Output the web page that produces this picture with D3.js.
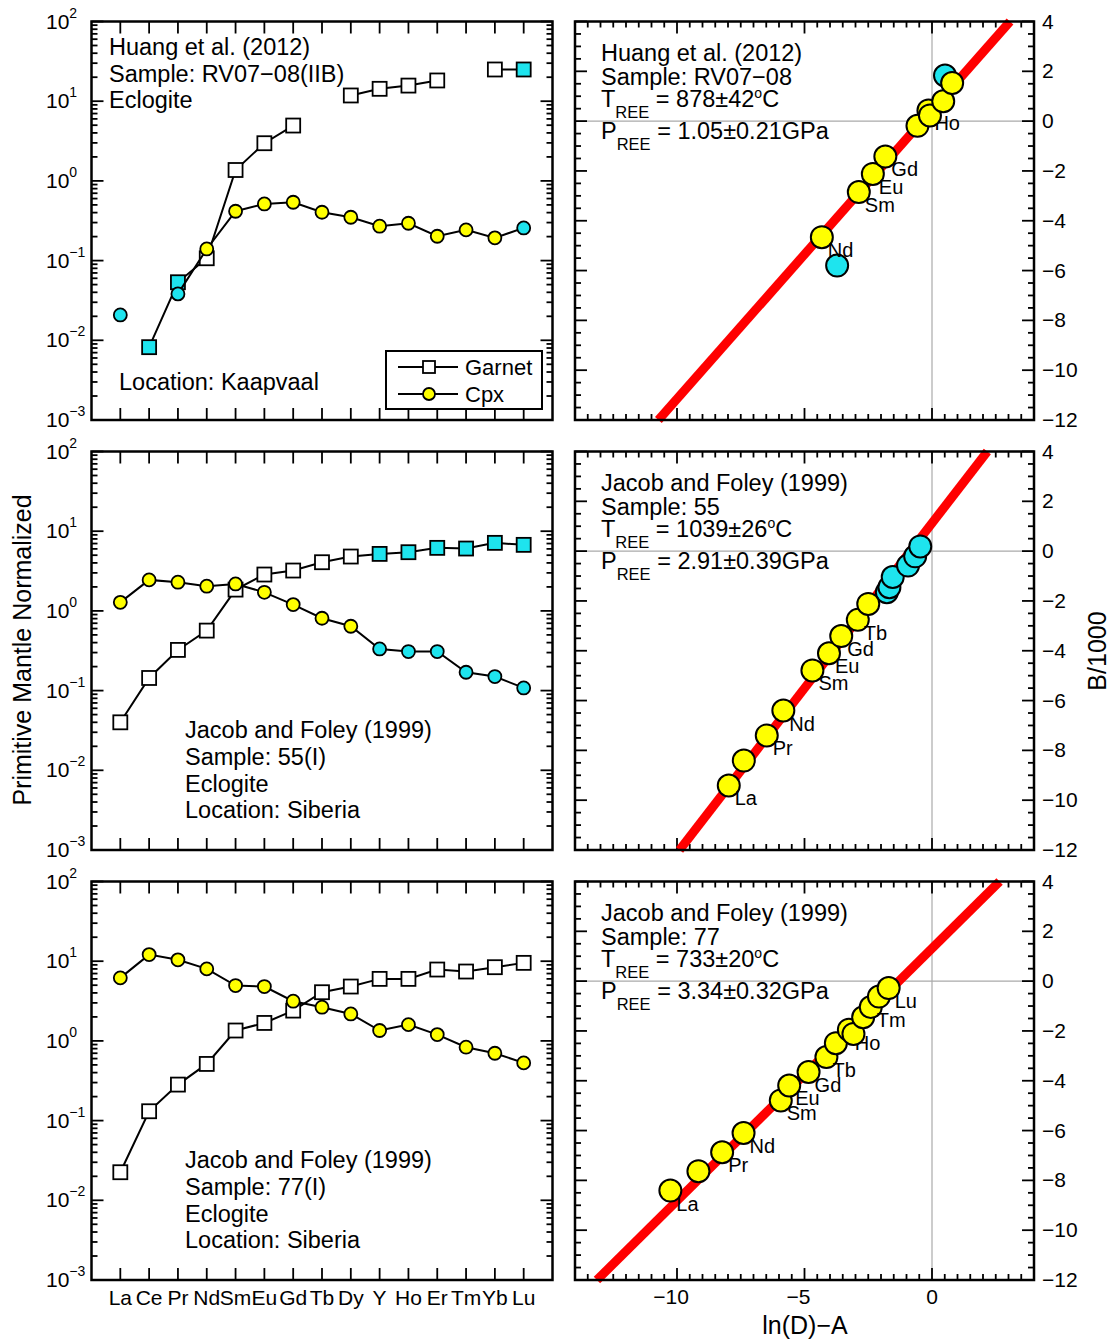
<!DOCTYPE html>
<html>
<head>
<meta charset="utf-8">
<script src="https://cdn.jsdelivr.net/npm/d3@7"></script>
<style>
  body { margin: 0; background: #fff; }
  text { font-family: "Liberation Sans", Arial, Helvetica, sans-serif; fill: #000; }
</style>
</head>
<body>
<svg id="chart" width="1114" height="1342"></svg>
<script>
// ---- data ----
const elements = ['La', 'Ce', 'Pr', 'Nd', 'Sm', 'Eu', 'Gd', 'Tb', 'Dy', 'Y', 'Ho', 'Er', 'Tm', 'Yb', 'Lu'];
const decades = [-3, -2, -1, 0, 1, 2];
const bTicks = [-12, -10, -8, -6, -4, -2, 0, 2, 4];
const lnTicks = [-10, -5, 0];

// Huang et al. (2012) RV07-08 : primitive mantle normalized
const huangGarnet = [null, 0.0082, 0.0535, 0.107, 1.37, 2.97, 4.95, null, 11.8, 14.3, 15.7, 18.2, null, 25.0, 25.0];
const huangGarnetCyan = ['Ce', 'Pr', 'Lu'];
const huangCpx = [0.0208, null, 0.0382, 0.140, 0.416, 0.514, 0.540, 0.404, 0.350, 0.270, 0.294, 0.202, 0.243, 0.193, 0.257];
const huangCpxCyan = ['La', 'Pr', 'Lu'];

// Jacob and Foley (1999) 55
const jf55Garnet = [0.040, 0.144, 0.324, 0.566, 1.85, 2.86, 3.21, 4.08, 4.81, 5.19, 5.45, 6.18, 6.06, 7.14, 6.74];
const jf55GarnetCyan = ['Y', 'Ho', 'Er', 'Tm', 'Yb', 'Lu'];
const jf55Cpx = [1.28, 2.45, 2.29, 2.04, 2.18, 1.71, 1.20, 0.809, 0.642, 0.333, 0.309, 0.309, 0.170, 0.150, 0.108];
const jf55CpxCyan = ['Y', 'Ho', 'Er', 'Tm', 'Yb', 'Lu'];

// Jacob and Foley (1999) 77
const jf77Garnet = [0.0225, 0.131, 0.283, 0.514, 1.35, 1.68, 2.40, 4.08, 4.81, 6.00, 6.00, 7.86, 7.42, 8.41, 9.53];
const jf77GarnetCyan = [];
const jf77Cpx = [6.18, 12.1, 10.4, 8.01, 4.95, 4.81, 3.15, 2.65, 2.18, 1.35, 1.60, 1.20, 0.833, 0.70, 0.530];
const jf77CpxCyan = [];

// ln(D)-A vs B/1000 points, in drawing order
const huangLnD = [-3.72, 0.51, -4.32, -2.87, -2.32, -1.83, -0.57, -0.14, -0.08, 0.44, 0.79];
const huangB = [-5.80, 1.83, -4.66, -2.85, -2.12, -1.42, -0.19, 0.43, 0.23, 0.80, 1.53];
const huangFitCyan = [true, true, false, false, false, false, false, false, false, false, false];
const huangFitLabel = ['', '', 'Nd', 'Sm', 'Eu', 'Gd', '', 'Ho', '', '', ''];
const huangLineX = [-10.73, 3.06];
const huangLineY = [-12, 4];

const jf55LnD = [-7.97, -7.38, -6.48, -5.83, -4.69, -4.04, -3.56, -2.91, -2.50, -1.77, -1.67, -1.54, -0.94, -0.66, -0.46];
const jf55B = [-9.41, -8.41, -7.40, -6.40, -4.79, -4.10, -3.41, -2.76, -2.12, -1.65, -1.45, -1.04, -0.58, -0.21, 0.19];
const jf55FitCyan = [false, false, false, false, false, false, false, false, false, true, true, true, true, true, true];
const jf55FitLabel = ['La', '', 'Pr', 'Nd', 'Sm', 'Eu', 'Gd', 'Tb', '', '', '', '', '', '', ''];
const jf55LineX = [-9.90, 2.17];
const jf55LineY = [-12, 4];

const jf77LnD = [-10.26, -9.16, -8.23, -7.39, -5.93, -5.60, -4.84, -4.14, -3.77, -3.26, -3.08, -2.70, -2.40, -2.08, -1.70];
const jf77B = [-8.41, -7.63, -6.87, -6.10, -4.79, -4.19, -3.65, -3.05, -2.49, -1.95, -2.12, -1.45, -1.04, -0.62, -0.28];
const jf77FitCyan = [false, false, false, false, false, false, false, false, false, false, false, false, false, false, false];
const jf77FitLabel = ['La', '', 'Pr', 'Nd', 'Sm', 'Eu', 'Gd', 'Tb', '', 'Ho', '', '', 'Tm', '', 'Lu'];
const jf77LineX = [-13.14, 2.65];
const jf77LineY = [-12, 4];

// ---- layout ----
const rowTops = [21.5, 451.5, 881.5];
const panelH = 398.5;
const leftX = [91.5, 552.5];
const rightX = [575, 1034];
const cyan = '#1ee4ee';
const yellow = '#ffff00';
const mainFont = 23.5;
const minus = (v) => v < 0 ? '\u2212' + (-v) : '' + v;

const svg = d3.select('#chart');

const xRee = d3.scaleLinear().domain([-1, 15]).range(leftX);
const xLn = d3.scaleLinear().domain([-14, 4]).range(rightX);

function tick(g, x1, y1, x2, y2) {
  g.append('line')
    .attr('x1', x1).attr('y1', y1).attr('x2', x2).attr('y2', y2)
    .attr('stroke', '#000').attr('stroke-width', 1.8);
}

function spiderPanel(top, garnet, garnetCyan, cpx, cpxCyan) {
  const g = svg.append('g');
  const y = d3.scaleLog().domain([1e-3, 1e2]).range([top + panelH, top]);

  // ticks: decades and minors on both sides
  const ticksG = g.append('g');
  decades.forEach((e) => {
    const v = Math.pow(10, e);
    tick(ticksG, leftX[0], y(v), leftX[0] + 12, y(v));
    tick(ticksG, leftX[1], y(v), leftX[1] - 12, y(v));
    if (e < 2) {
      for (let m = 2; m <= 9; m++) {
        const mv = m * v;
        tick(ticksG, leftX[0], y(mv), leftX[0] + 6, y(mv));
        tick(ticksG, leftX[1], y(mv), leftX[1] - 6, y(mv));
      }
    }
    // label 10^e
    const lab = g.append('text')
      .attr('x', 46)
      .attr('y', y(v) + 7)
      .attr('font-size', 21)
      .text('10');
    lab.append('tspan')
      .attr('dy', -11)
      .attr('font-size', 14)
      .text(minus(e));
  });
  elements.forEach((el, i) => {
    tick(ticksG, xRee(i), top, xRee(i), top + 12);
    tick(ticksG, xRee(i), top + panelH, xRee(i), top + panelH - 12);
  });

  const series = [
    { vals: garnet, cyanSet: garnetCyan, shape: 'square', base: '#fff' },
    { vals: cpx, cyanSet: cpxCyan, shape: 'circle', base: yellow }
  ];

  series.forEach((s) => {
    const pts = s.vals.map((v, i) => ({ i: i, v: v, el: elements[i] }));
    const line = d3.line()
      .defined((d) => d.v !== null)
      .x((d) => xRee(d.i))
      .y((d) => y(d.v));
    g.append('path')
      .attr('d', line(pts))
      .attr('fill', 'none')
      .attr('stroke', '#000')
      .attr('stroke-width', 2);
    const valid = pts.filter((d) => d.v !== null);
    if (s.shape === 'square') {
      g.selectAll(null)
        .data(valid)
        .enter()
        .append('rect')
        .attr('x', (d) => xRee(d.i) - 7)
        .attr('y', (d) => y(d.v) - 7)
        .attr('width', 14)
        .attr('height', 14)
        .attr('fill', (d) => s.cyanSet.includes(d.el) ? cyan : s.base)
        .attr('stroke', '#000')
        .attr('stroke-width', 1.8);
    } else {
      g.selectAll(null)
        .data(valid)
        .enter()
        .append('circle')
        .attr('cx', (d) => xRee(d.i))
        .attr('cy', (d) => y(d.v))
        .attr('r', 6.5)
        .attr('fill', (d) => s.cyanSet.includes(d.el) ? cyan : s.base)
        .attr('stroke', '#000')
        .attr('stroke-width', 1.8);
    }
  });

  g.append('rect')
    .attr('x', leftX[0]).attr('y', top)
    .attr('width', leftX[1] - leftX[0]).attr('height', panelH)
    .attr('fill', 'none').attr('stroke', '#000').attr('stroke-width', 2.5);
  return g;
}

function textLines(g, x, baselines, lines, size) {
  lines.forEach((t, i) => {
    g.append('text')
      .attr('x', x)
      .attr('y', baselines[i])
      .attr('font-size', size)
      .text(t);
  });
}

function fitPanel(top, lnD, b, cyanFlags, labels, lineX, lineY, head) {
  const g = svg.append('g');
  const y = d3.scaleLinear().domain([-12, 4]).range([top + panelH, top]);

  // zero reference lines
  g.append('line')
    .attr('x1', xLn(0)).attr('x2', xLn(0)).attr('y1', top).attr('y2', top + panelH)
    .attr('stroke', '#aaa').attr('stroke-width', 1.2);
  g.append('line')
    .attr('x1', rightX[0]).attr('x2', rightX[1]).attr('y1', y(0)).attr('y2', y(0))
    .attr('stroke', '#aaa').attr('stroke-width', 1.2);

  // ticks
  const ticksG = g.append('g');
  for (let v = -12; v <= 4.001; v += 0.5) {
    const major = Math.abs(v % 2) < 1e-6;
    const len = major ? 12 : 6;
    tick(ticksG, rightX[0], y(v), rightX[0] + len, y(v));
    tick(ticksG, rightX[1], y(v), rightX[1] - len, y(v));
  }
  for (let v = -14; v <= 4.001; v += 0.5) {
    const major = Math.abs(v % 5) < 1e-6;
    const len = major ? 12 : 6;
    tick(ticksG, xLn(v), top, xLn(v), top + len);
    tick(ticksG, xLn(v), top + panelH, xLn(v), top + panelH - len);
  }
  bTicks.forEach((v) => {
    g.append('text')
      .attr('x', rightX[1] + 8)
      .attr('y', y(v) + 7)
      .attr('font-size', 21)
      .text(minus(v));
  });

  // red regression line
  g.append('line')
    .attr('x1', xLn(lineX[0])).attr('y1', y(lineY[0]))
    .attr('x2', xLn(lineX[1])).attr('y2', y(lineY[1]))
    .attr('stroke', '#ff0000').attr('stroke-width', 9);

  // cyan points first, then yellow with their labels
  const pts = lnD.map((x, i) => ({ x: x, b: b[i], cyan: cyanFlags[i], label: labels[i] }));
  const ordered = pts.filter((d) => d.cyan).concat(pts.filter((d) => !d.cyan));
  ordered.forEach((d) => {
    g.append('circle')
      .attr('cx', xLn(d.x))
      .attr('cy', y(d.b))
      .attr('r', 11)
      .attr('fill', d.cyan ? cyan : yellow)
      .attr('stroke', '#000')
      .attr('stroke-width', 2);
    if (d.label) {
      g.append('text')
        .attr('x', xLn(d.x) + 6)
        .attr('y', y(d.b) + 20)
        .attr('font-size', 20)
        .text(d.label);
    }
  });

  // header text
  const tx = 601;
  g.append('text').attr('x', tx).attr('y', top + 39).attr('font-size', mainFont).text(head.ref);
  g.append('text').attr('x', tx).attr('y', top + 63.5).attr('font-size', mainFont).text(head.sample);
  const tT = g.append('text').attr('x', tx).attr('y', top + 85).attr('font-size', mainFont);
  tT.append('tspan').text('T');
  tT.append('tspan').attr('dy', 11).attr('font-size', 16.5).text('REE');
  tT.append('tspan').attr('dy', -11).text(' = ' + head.t);
  tT.append('tspan').attr('dy', -9).attr('font-size', 14).text('o');
  tT.append('tspan').attr('dy', 9).text('C');
  const tP = g.append('text').attr('x', tx).attr('y', top + 117.5).attr('font-size', mainFont);
  tP.append('tspan').text('P');
  tP.append('tspan').attr('dy', 11).attr('font-size', 16.5).text('REE');
  tP.append('tspan').attr('dy', -11).text(' = ' + head.p);

  g.append('rect')
    .attr('x', rightX[0]).attr('y', top)
    .attr('width', rightX[1] - rightX[0]).attr('height', panelH)
    .attr('fill', 'none').attr('stroke', '#000').attr('stroke-width', 2.5);
  return g;
}

// ---- row 1 ----
const p1 = spiderPanel(rowTops[0], huangGarnet, huangGarnetCyan, huangCpx, huangCpxCyan);
textLines(p1, 109, [55, 81.5, 108], ['Huang et al. (2012)', 'Sample: RV07\u221208(IIB)', 'Eclogite'], mainFont);
textLines(p1, 119, [390], ['Location: Kaapvaal'], mainFont);

// legend
const legend = svg.append('g');
legend.append('rect')
  .attr('x', 386).attr('y', 351).attr('width', 156).attr('height', 58)
  .attr('fill', '#fff').attr('stroke', '#000').attr('stroke-width', 2);
[{ name: 'Garnet', shape: 'square', yy: 367 }, { name: 'Cpx', shape: 'circle', yy: 394 }].forEach((d) => {
  legend.append('line').attr('x1', 398).attr('x2', 458).attr('y1', d.yy).attr('y2', d.yy)
    .attr('stroke', '#000').attr('stroke-width', 2);
  if (d.shape === 'square') {
    legend.append('rect').attr('x', 423).attr('y', d.yy - 6).attr('width', 12).attr('height', 12)
      .attr('fill', '#fff').attr('stroke', '#000').attr('stroke-width', 1.8);
  } else {
    legend.append('circle').attr('cx', 429).attr('cy', d.yy).attr('r', 6)
      .attr('fill', yellow).attr('stroke', '#000').attr('stroke-width', 1.8);
  }
  legend.append('text').attr('x', 465).attr('y', d.yy + 8).attr('font-size', 22).text(d.name);
});

fitPanel(rowTops[0], huangLnD, huangB, huangFitCyan, huangFitLabel, huangLineX, huangLineY,
  { ref: 'Huang et al. (2012)', sample: 'Sample: RV07\u221208', t: '878\u00b142', p: '1.05\u00b10.21GPa' });

// ---- row 2 ----
const p2 = spiderPanel(rowTops[1], jf55Garnet, jf55GarnetCyan, jf55Cpx, jf55CpxCyan);
textLines(p2, 185, [738, 765, 792, 818],
  ['Jacob and Foley (1999)', 'Sample: 55(I)', 'Eclogite', 'Location: Siberia'], mainFont);
fitPanel(rowTops[1], jf55LnD, jf55B, jf55FitCyan, jf55FitLabel, jf55LineX, jf55LineY,
  { ref: 'Jacob and Foley (1999)', sample: 'Sample: 55', t: '1039\u00b126', p: '2.91\u00b10.39GPa' });

// ---- row 3 ----
const p3 = spiderPanel(rowTops[2], jf77Garnet, jf77GarnetCyan, jf77Cpx, jf77CpxCyan);
textLines(p3, 185, [1168, 1195, 1222, 1248],
  ['Jacob and Foley (1999)', 'Sample: 77(I)', 'Eclogite', 'Location: Siberia'], mainFont);
fitPanel(rowTops[2], jf77LnD, jf77B, jf77FitCyan, jf77FitLabel, jf77LineX, jf77LineY,
  { ref: 'Jacob and Foley (1999)', sample: 'Sample: 77', t: '733\u00b120', p: '3.34\u00b10.32GPa' });

// ---- bottom axis labels ----
svg.append('g')
  .selectAll('text')
  .data(elements)
  .enter()
  .append('text')
  .attr('x', (d, i) => xRee(i))
  .attr('y', 1305)
  .attr('text-anchor', 'middle')
  .attr('font-size', 21)
  .text((d) => d);

// digits centred on the tick, minus sign hangs to the left
svg.append('g')
  .selectAll('text')
  .data(lnTicks)
  .enter()
  .append('text')
  .attr('x', (d) => xLn(d) - (d < 0 ? 6 : 0))
  .attr('y', 1304)
  .attr('text-anchor', 'middle')
  .attr('font-size', 21)
  .text((d) => minus(d));

// axis titles
svg.append('text')
  .attr('transform', 'translate(31, 650) rotate(-90)')
  .attr('text-anchor', 'middle')
  .attr('font-size', 25)
  .text('Primitive Mantle Normalized');

svg.append('text')
  .attr('transform', 'translate(1106, 651) rotate(-90)')
  .attr('text-anchor', 'middle')
  .attr('font-size', 25)
  .text('B/1000');

svg.append('text')
  .attr('x', 805)
  .attr('y', 1334)
  .attr('text-anchor', 'middle')
  .attr('font-size', 25)
  .text('ln(D)\u2212A');
</script>
</body>
</html>
